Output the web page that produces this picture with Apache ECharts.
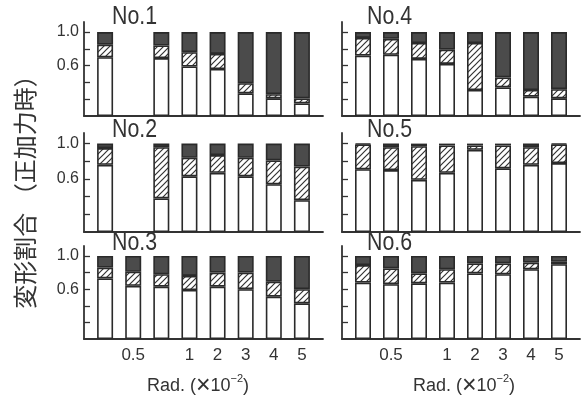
<!DOCTYPE html>
<html>
<head>
<meta charset="utf-8">
<script src="https://cdn.jsdelivr.net/npm/echarts@6/dist/echarts.min.js"></script>
<style>html,body{margin:0;background:#fff}#chart{width:582px;height:398px}</style>
</head>
<body>
<div id="chart"></div>
<script>
// drift levels (only some are labelled under the axis)
var xLabels = ['', '0.5', '', '1', '2', '3', '4', '5'];
var yTickValues = [0.2, 0.4, 0.6, 0.8, 1.0];
var yLabelValues = [0.6, 1.0];
var titles = ['No.1', 'No.2', 'No.3', 'No.4', 'No.5', 'No.6'];

// share of each deformation part: white / hatched / dark
var white1 = [0.70, '-', 0.69, 0.59, 0.56, 0.27, 0.21, 0.15];
var hatch1 = [0.15, '-', 0.15, 0.17, 0.18, 0.12, 0.05, 0.06];
var dark1  = [0.15, '-', 0.16, 0.24, 0.26, 0.61, 0.74, 0.79];

var white2 = [0.76, '-', 0.38, 0.63, 0.67, 0.63, 0.54, 0.36];
var hatch2 = [0.19, '-', 0.58, 0.21, 0.20, 0.21, 0.27, 0.38];
var dark2  = [0.05, '-', 0.04, 0.16, 0.13, 0.16, 0.19, 0.26];

var white3 = [0.73, 0.64, 0.63, 0.59, 0.63, 0.60, 0.51, 0.43];
var hatch3 = [0.13, 0.17, 0.15, 0.17, 0.17, 0.20, 0.18, 0.17];
var dark3  = [0.14, 0.19, 0.22, 0.24, 0.20, 0.20, 0.31, 0.40];

var white4 = [0.72, 0.73, 0.68, 0.62, 0.31, 0.34, 0.23, 0.21];
var hatch4 = [0.21, 0.19, 0.19, 0.17, 0.56, 0.12, 0.08, 0.11];
var dark4  = [0.07, 0.08, 0.13, 0.21, 0.13, 0.54, 0.69, 0.68];

var white5 = [0.71, 0.70, 0.59, 0.67, 0.93, 0.72, 0.76, 0.78];
var hatch5 = [0.28, 0.26, 0.38, 0.31, 0.05, 0.26, 0.20, 0.21];
var dark5  = [0.01, 0.04, 0.03, 0.02, 0.02, 0.02, 0.04, 0.01];

var white6 = [0.68, 0.66, 0.67, 0.68, 0.79, 0.78, 0.84, 0.90];
var hatch6 = [0.21, 0.19, 0.12, 0.16, 0.12, 0.13, 0.08, 0.03];
var dark6  = [0.11, 0.15, 0.21, 0.16, 0.09, 0.09, 0.08, 0.07];

var panels = [
  [white1, hatch1, dark1], [white2, hatch2, dark2], [white3, hatch3, dark3],
  [white4, hatch4, dark4], [white5, hatch5, dark5], [white6, hatch6, dark6]
];

var chart = echarts.init(document.getElementById('chart'));

function hatchCanvas() {
  var s = 6;
  var c = document.createElement('canvas');
  c.width = s; c.height = s;
  var g = c.getContext('2d');
  g.fillStyle = '#fff';
  g.fillRect(0, 0, s, s);
  g.strokeStyle = '#333';
  g.lineWidth = 1.2;
  g.beginPath();
  g.moveTo(-1, s + 1); g.lineTo(s + 1, -1);
  g.moveTo(-1, 1); g.lineTo(1, -1);
  g.moveTo(s - 1, s + 1); g.lineTo(s + 1, s - 1);
  g.stroke();
  return c;
}
var hatchFill = { image: hatchCanvas(), repeat: 'repeat' };
var fills = ['#fff', hatchFill, '#4b4b4b'];

var cols = [{ left: 84, width: 239 }, { left: 342, width: 238 }];
var rows = [{ top: 22, height: 94 }, { top: 133, height: 99 }, { top: 246, height: 93 }];
var titleTops = [4, 117, 230];

var grids = [], xAxes = [], yAxes = [], series = [], texts = [];
var fontMain = "'Liberation Sans', Arial, sans-serif";

panels.forEach(function (p, i) {
  var col = cols[i < 3 ? 0 : 1];
  var row = rows[i % 3];
  grids.push({ left: col.left, width: col.width, top: row.top, height: row.height });
  xAxes.push({
    gridIndex: i, type: 'value', min: -0.75, max: 7.75, interval: 0.25,
    axisLine: { onZero: false, lineStyle: { color: '#333', width: 1.8 } },
    axisTick: { show: false },
    splitLine: { show: false },
    axisLabel: {
      show: i % 3 === 2,
      customValues: [1, 3, 4, 5, 6, 7],
      color: '#333', fontSize: 17, fontFamily: fontMain, margin: 8,
      formatter: function (v) {
        return Number.isInteger(v) && v >= 0 && v < xLabels.length ? xLabels[v] : '';
      }
    }
  });
  yAxes.push({
    gridIndex: i, type: 'value', min: 0, max: 1.12,
    axisLine: { show: true, onZero: false, lineStyle: { color: '#333', width: 1.8 } },
    axisTick: { show: true, inside: true, length: 6, customValues: yTickValues, lineStyle: { color: '#333', width: 1.3 } },
    splitLine: { show: false },
    axisLabel: {
      show: i < 3, customValues: yLabelValues,
      color: '#333', fontSize: 16, fontFamily: fontMain, margin: 5,
      formatter: function (v) { return v.toFixed(1); }
    }
  });
  p.forEach(function (vals, k) {
    series.push({
      type: 'bar', xAxisIndex: i, yAxisIndex: i, stack: 'p' + i,
      barWidth: 16,
      // value first so it is the stacked dimension
      encode: { x: 1, y: 0 },
      itemStyle: { color: fills[k], borderColor: '#2a2a2a', borderWidth: 1.6 },
      data: vals.map(function (v, j) { return [v, j]; })
    });
  });
  texts.push({
    type: 'text', x: i < 3 ? 112 : 367, y: titleTops[i % 3], scaleX: 0.82,
    style: { text: titles[i], fontSize: 26, fill: '#333', fontFamily: fontMain, verticalAlign: 'top' }
  });
});

var axisTitle = function (x) {
  return {
    type: 'text', x: x, y: 386,
    style: {
      text: 'Rad. ({m|×}10{s|−2})',
      align: 'center', verticalAlign: 'middle',
      fontSize: 18, fontFamily: fontMain, fill: '#333',
      rich: {
        m: { fontSize: 25, fontFamily: fontMain, fill: '#333' },
        s: { fontSize: 11, verticalAlign: 'top', fontFamily: fontMain, fill: '#333' }
      }
    }
  };
};

chart.setOption({
  animation: false,
  backgroundColor: '#fff',
  grid: grids,
  xAxis: xAxes,
  yAxis: yAxes,
  series: series,
  graphic: texts.concat([
    {
      type: 'text', x: 25, y: 186, rotation: Math.PI / 2,
      style: {
        text: '変形割合 （正加力時）',
        align: 'center', verticalAlign: 'middle',
        fontSize: 24, fill: '#333',
        fontFamily: "'Noto Sans CJK JP', sans-serif"
      }
    },
    axisTitle(198),
    axisTitle(464)
  ])
});
</script>
</body>
</html>
